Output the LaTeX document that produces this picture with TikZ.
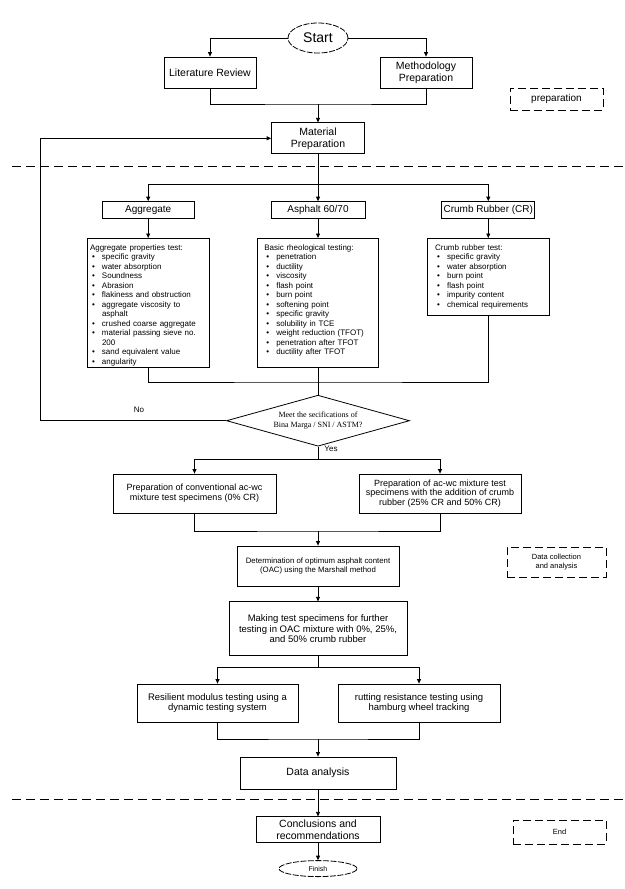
\documentclass[tikz,border=0pt]{standalone}
\usepackage{fontspec}
\setmainfont{Liberation Sans}
\newfontfamily\timesfont{Liberation Serif}
\usepackage{tikz}
\usetikzlibrary{shapes.geometric,arrows.meta,positioning}

\newcommand{\bitem}{\par\noindent\makebox[12pt][l]{\hspace{2pt}\textbullet}}
\newcommand{\bcont}{\par\noindent\hspace*{12pt}}

\begin{document}
\begin{tikzpicture}[
  x=1pt, y=-1pt,
  font=\fontsize{9}{10}\selectfont,
  ln/.style={line width=0.8pt},
  proc/.style={draw, ln, align=center, inner sep=1pt},
  term/.style={draw, ellipse, ln, dash pattern=on 6pt off 1.5pt, inner sep=0pt},
  note/.style={draw, ln, dash pattern=on 8pt off 4pt, align=center, minimum width=93pt},
  testbox/.style={draw, ln, minimum width=122pt},
  testlist/.style={anchor=north west, inner sep=0pt, align=left, text width=114pt,
                   font=\fontsize{8}{9.5}\selectfont},
  query/.style={draw, ln, diamond, aspect=3.6, inner sep=0pt, align=center,
                minimum width=183pt, minimum height=51pt,
                font=\timesfont\fontsize{8}{9.5}\selectfont},
  ar/.style={ln, -{Triangle[length=4.5pt, width=4pt]}},
  sep/.style={line width=0.9pt, dash pattern=on 9pt off 5pt},
  big/.style={font=\fontsize{10.5}{12}\selectfont}
]
\useasboundingbox (0,0) rectangle (624,889);

% preparation stage
\node[term, minimum width=60pt, minimum height=30pt, font=\fontsize{14}{16}\selectfont] (start) at (318,38) {Start};
\node[proc, big, minimum width=92pt, minimum height=31pt] (lit) at (210,72.5) {Literature Review};
\node[proc, big, minimum width=92pt, minimum height=31pt] (meth) at (426,72.5) {Methodology\\Preparation};
\node[proc, big, minimum width=93pt, minimum height=31pt, below=69pt of start] (mat) {Material\\Preparation};
\node[note, minimum height=22pt, font=\fontsize{10}{12}\selectfont] (notep) at (556.5,99) {preparation};

\coordinate (j1) at (318,104);
\draw[ar] (start.west) -| (lit.north);
\draw[ar] (start.east) -| (meth.north);
\draw[ln] (lit.south) |- (j1) -| (meth.south);
\draw[ar] (j1) -- (mat.north);

\draw[sep] (12,166) -- (624,166);

% materials and their tests
\coordinate (b1) at (318,184);
\node[proc, minimum width=94pt, minimum height=17pt, font=\fontsize{10}{12}\selectfont, below=47pt of mat] (asp) {Asphalt 60/70};
\node[proc, minimum width=92pt, minimum height=17pt, font=\fontsize{10}{12}\selectfont, left=76pt of asp] (agg) {Aggregate};
\node[proc, minimum width=93pt, minimum height=17pt, font=\fontsize{10}{12}\selectfont, right=76pt of asp] (cr) {Crumb Rubber (CR)};

\node[testbox, minimum height=129pt, below=19pt of agg] (aggbox) {};
\node[testbox, minimum width=121pt, minimum height=129pt, below=19pt of asp] (aspbox) {};
\node[testbox, minimum height=77pt, below=19pt of cr] (crbox) {};

\node[testlist] (agglist) at ([xshift=3pt, yshift=-6pt]aggbox.north west) {%
  Aggregate properties test:
  \bitem specific gravity
  \bitem water absorption
  \bitem Soundness
  \bitem Abrasion
  \bitem flakiness and obstruction
  \bitem aggregate viscosity to\bcont asphalt
  \bitem crushed coarse aggregate
  \bitem material passing sieve no.\bcont 200
  \bitem sand equivalent value
  \bitem angularity};
\node[testlist] (asplist) at ([xshift=7pt, yshift=-6pt]aspbox.north west) {%
  Basic rheological testing:
  \bitem penetration
  \bitem ductility
  \bitem viscosity
  \bitem flash point
  \bitem burn point
  \bitem softening point
  \bitem specific gravity
  \bitem solubility in TCE
  \bitem weight reduction (TFOT)
  \bitem penetration after TFOT
  \bitem ductility after TFOT};
\node[testlist] (crlist) at ([xshift=8pt, yshift=-6pt]crbox.north west) {%
  Crumb rubber test:
  \bitem specific gravity
  \bitem water absorption
  \bitem burn point
  \bitem flash point
  \bitem impurity content
  \bitem chemical requirements};

\draw[ln] (mat.south) -- (b1);
\draw[ar] (b1) -| (agg.north);
\draw[ar] (b1) -| (cr.north);
\draw[ar] (b1) -- (asp.north);
\foreach \a/\b in {agg/aggbox, asp/aspbox, cr/crbox}
  \draw[ar] (\a) -- (\b);

% specification check
\coordinate (j2) at (318,382);
\node[query, below=27pt of aspbox] (dec) {Meet the secifications of\\Bina Marga / SNI / ASTM?};
\draw[ln] (aggbox.south) |- (j2) -| (crbox.south);
\draw[ln] (aspbox.south) -- (dec.north);
\draw[ar] (dec.west) -- ++(-186,0) |- (mat.west);
\node[font=\fontsize{8}{9}\selectfont] (nolbl) at (139,410) {No};
\node[font=\fontsize{8}{9}\selectfont] (yeslbl) at (331,449) {Yes};

% data collection and analysis
\coordinate (j3) at (318,459);
\coordinate (j4) at (318,531);
\node[proc, minimum width=163pt, minimum height=39pt] (conv) at (194.5,493.5)
  {Preparation of conventional ac-wc\\mixture test specimens (0\% CR)};
\node[proc, minimum width=162pt, minimum height=39pt, font=\fontsize{9}{9.7}\selectfont] (crmix) at (440,493.5)
  {Preparation of ac-wc mixture test\\specimens with the addition of crumb\\rubber (25\% CR and 50\% CR)};
\node[proc, minimum width=162pt, minimum height=40pt, font=\fontsize{7.8}{8.6}\selectfont] (oac) at (318,566)
  {Determination of optimum asphalt content\\(OAC) using the Marshall method};
\node[note, minimum width=99pt, minimum height=30pt, font=\fontsize{7.5}{8.5}\selectfont] (noted) at (556.5,562)
  {Data collection\\and analysis};
\node[proc, minimum width=178pt, minimum height=54pt, font=\fontsize{9.5}{10.6}\selectfont, below=15pt of oac] (make)
  {Making test specimens for further\\testing in OAC mixture with 0\%, 25\%,\\and 50\% crumb rubber};

\draw[ln] (dec.south) -- (j3);
\draw[ar] (j3) -| (conv.north);
\draw[ar] (j3) -| (crmix.north);
\draw[ln] (conv.south) |- (j4) -| (crmix.south);
\draw[ar] (j4) -- (oac.north);
\draw[ar] (oac) -- (make);

\coordinate (j5) at (318,667);
\coordinate (j6) at (318,739);
\node[proc, minimum width=161pt, minimum height=38pt, font=\fontsize{9.5}{10.2}\selectfont] (resil) at (217.5,703)
  {Resilient modulus testing using a\\dynamic testing system};
\node[proc, minimum width=162pt, minimum height=38pt, font=\fontsize{9.5}{10.2}\selectfont] (rut) at (419,703)
  {rutting resistance testing using\\hamburg wheel tracking};
\node[proc, big, minimum width=156pt, minimum height=32pt] (data) at (318,773) {Data analysis};

\draw[ln] (make.south) -- (j5);
\draw[ar] (j5) -| (resil.north);
\draw[ar] (j5) -| (rut.north);
\draw[ln] (resil.south) |- (j6) -| (rut.south);
\draw[ar] (j6) -- (data.north);

\draw[sep] (12,799) -- (624,799);

% end stage
\node[proc, minimum width=124pt, minimum height=26pt, font=\fontsize{10.5}{12.5}\selectfont, below=27pt of data] (concl)
  {Conclusions and\\recommendations};
\node[term, minimum width=78pt, minimum height=16pt, font=\fontsize{7}{8}\selectfont, below=17pt of concl] (finish) {Finish};
\node[note, minimum height=24pt, font=\fontsize{7.5}{8.5}\selectfont] (notee) at (559.5,832) {End};

\draw[ar] (data) -- (concl);
\draw[ar] (concl) -- (finish);
\end{tikzpicture}
\end{document}
